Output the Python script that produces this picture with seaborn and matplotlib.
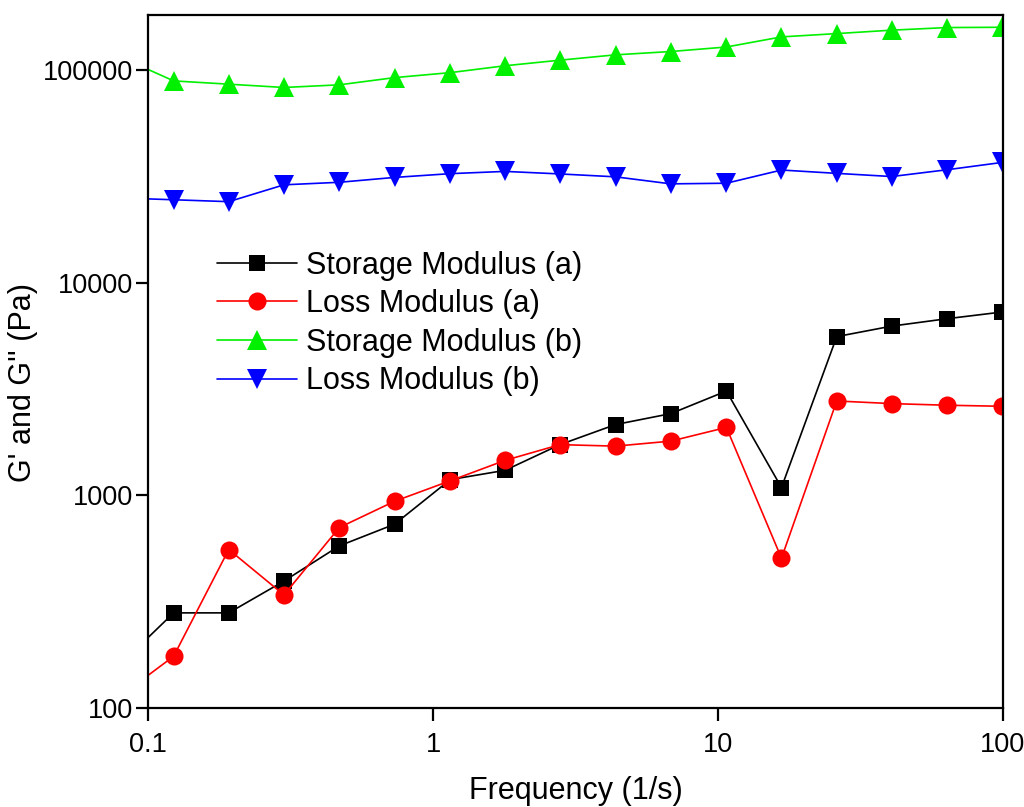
import matplotlib
matplotlib.use("Agg")
import matplotlib.pyplot as plt
import matplotlib.ticker as mticker
import seaborn as sns
import pandas as pd

# ---- data ----
freq = [0.0787, 0.123, 0.192, 0.300, 0.469, 0.733, 1.15, 1.79, 2.79, 4.37,
        6.83, 10.7, 16.7, 26.1, 40.7, 63.6, 99.4]
storage_a = [157, 280, 280, 395, 578, 731, 1185, 1310, 1730, 2150, 2420,
             3090, 1087, 5570, 6240, 6760, 7270]
loss_a = [112, 175, 556, 340, 705, 937, 1170, 1459, 1730, 1702, 1797,
          2084, 506, 2775, 2697, 2650, 2620]
storage_b = [116000, 88700, 85600, 82600, 85000, 91900, 97000, 104500,
             111000, 117600, 121900, 128000, 142800, 148000, 153600,
             158000, 158500]
loss_b = [25000, 24500, 24000, 28800, 29600, 31200, 32500, 33300, 32400,
          31400, 29100, 29300, 33800, 32600, 31500, 33900, 36700]

series_names = ["Storage Modulus (a)", "Loss Modulus (a)",
                "Storage Modulus (b)", "Loss Modulus (b)"]
series_values = [storage_a, loss_a, storage_b, loss_b]
colors = ["#000000", "#FF0000", "#00F000", "#0000FF"]
marker_list = ["s", "o", "^", "v"]
marker_sizes = {"s": 11.5, "o": 13, "^": 14.5, "v": 14.5}

x_ticks = [0.1, 1, 10, 100]
x_tick_labels = ["0.1", "1", "10", "100"]
y_ticks = [100, 1000, 10000, 100000]
y_tick_labels = ["100", "1000", "10000", "100000"]

rows = []
for name, vals in zip(series_names, series_values):
    for f, v in zip(freq, vals):
        rows.append({"freq": f, "val": v, "series": name})
df = pd.DataFrame(rows)

sns.set_theme(style="white")
plt.rcParams["font.family"] = ["Liberation Sans", "DejaVu Sans"]
plt.rcParams["text.color"] = "black"
plt.rcParams["axes.labelcolor"] = "black"
plt.rcParams["xtick.color"] = "black"
plt.rcParams["ytick.color"] = "black"

fig = plt.figure(figsize=(10.24, 8.07), dpi=100)
ax = fig.add_axes([148 / 1024, 99 / 807, 855 / 1024, 693 / 807])

sns.lineplot(data=df, x="freq", y="val", hue="series", style="series",
             hue_order=series_names, style_order=series_names,
             palette=dict(zip(series_names, colors)),
             markers=dict(zip(series_names, marker_list)),
             dashes=False, markersize=12, markeredgewidth=0,
             linewidth=1.2, estimator=None, sort=True, ax=ax)

for ln in ax.lines:
    m = ln.get_marker()
    if m in marker_sizes:
        ln.set_markersize(marker_sizes[m])

ax.set_xscale("log")
ax.set_yscale("log")
ax.set_xlim(0.1, 100)
ax.set_ylim(100, 181000)

ax.xaxis.set_major_locator(mticker.FixedLocator(x_ticks))
ax.xaxis.set_major_formatter(mticker.FixedFormatter(x_tick_labels))
ax.yaxis.set_major_locator(mticker.FixedLocator(y_ticks))
ax.yaxis.set_major_formatter(mticker.FixedFormatter(y_tick_labels))
ax.xaxis.set_minor_locator(mticker.NullLocator())
ax.yaxis.set_minor_locator(mticker.NullLocator())

for sp in ax.spines.values():
    sp.set_visible(True)
    sp.set_color("black")
    sp.set_linewidth(1.6)

ax.tick_params(axis="both", which="major", direction="out", length=9,
               width=1.6, color="black", labelcolor="black", labelsize=19.5,
               bottom=True, left=True, top=False, right=False)
ax.tick_params(axis="x", pad=8)
ax.tick_params(axis="y", pad=2)

ax.set_xlabel("Frequency (1/s)", fontsize=22, labelpad=13, color="black")
ax.set_ylabel("G' and G'' (Pa)", fontsize=22, color="black")
ax.yaxis.set_label_coords(-0.129, 0.469)

leg = ax.legend(loc="upper left", bbox_to_anchor=(0.081, 0.66),
                frameon=False, fontsize=22, handlelength=2.6,
                handletextpad=0.3, labelspacing=0.28, borderpad=0,
                borderaxespad=0)
for h, m in zip(leg.legend_handles, marker_list):
    h.set_markersize(marker_sizes[m])
for t in leg.get_texts():
    t.set_color("black")

fig.savefig("out.png", dpi=100)
